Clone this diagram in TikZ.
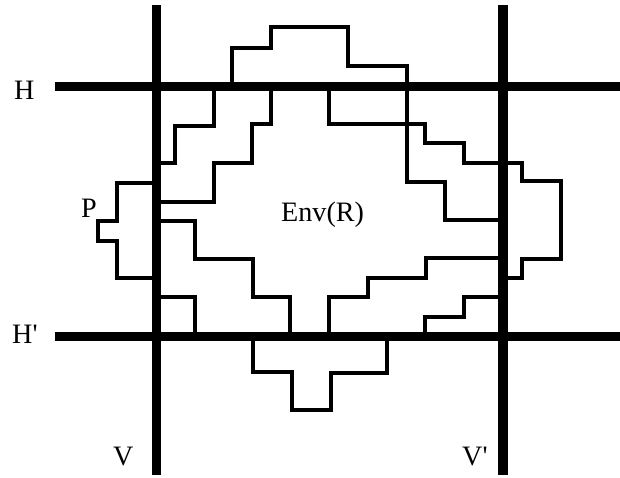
\documentclass[tikz,border=0pt]{standalone}
\usepackage{fontspec}
\setmainfont{Liberation Serif}
\usetikzlibrary{positioning}
\tikzset{
  cutline/.style ={line width=8pt},
  envline/.style ={line width=4.2pt},
  polyline/.style={line width=2.6pt},
  lbl/.style     ={inner sep=0pt,anchor=base west,font=\fontsize{24}{28}\selectfont},
}

\begin{document}
\begin{tikzpicture}[x=0.03cm,y=-0.03cm]
  \useasboundingbox (0,0) rectangle (620,477);

  % the four cut lines
  \draw[cutline] (55,86.5) -- (620,86.5);
  \draw[cutline] (55,336.5) -- (620,336.5);
  \draw[cutline] (156.5,5) -- (156.5,475);
  \draw[cutline] (503,5) -- (503,475);

  % polygon P
  \draw[polyline] (232,86) -- (232,48) -- (271,48) -- (271,27) -- (348,27)
                  -- (348,66) -- (407,66) -- (407,86);
  \draw[polyline] (214,86) -- (214,126) -- (175,126) -- (175,163) -- (156,163);
  \draw[polyline] (407,124) -- (425,124) -- (425,143) -- (464,143) -- (464,163)
                  -- (522,163) -- (522,181) -- (561,181) -- (561,259)
                  -- (522,259) -- (522,278) -- (503,278);
  \draw[polyline] (156,183) -- (117,183) -- (117,221) -- (98,221) -- (98,241)
                  -- (117,241) -- (117,278) -- (156,278);
  \draw[polyline] (156,297) -- (195,297) -- (195,337);
  \draw[polyline] (425,337) -- (425,317) -- (464,317) -- (464,297) -- (503,297);
  \draw[polyline] (253,337) -- (253,372) -- (292,372) -- (292,410) -- (331,410)
                  -- (331,373) -- (387,373) -- (387,337);

  % Env(R)
  \draw[envline] (156,202) -- (214,202) -- (214,163) -- (252,163) -- (252,124)
                 -- (271,124) -- (271,86);
  \draw[envline] (329,86) -- (329,124) -- (407,124);
  \draw[envline] (407,86) -- (407,182) -- (445,182) -- (445,220) -- (503,220);
  \draw[envline] (503,258) -- (426,258) -- (426,278) -- (368,278) -- (368,297)
                 -- (329,297) -- (329,337);
  \draw[envline] (290,337) -- (290,297) -- (253,297) -- (253,259) -- (195,259)
                 -- (195,221) -- (156,221);

  % labels
  \node[lbl] (lH)   at (14,99)   {H};
  \node[lbl] (lHp)  at (12,343)  {H\textquotesingle};
  \node[lbl] (lV)   at (113,465) {V};
  \node[lbl] (lVp)  at (462,465) {V\textquotesingle};
  \node[lbl] (lP)   at (81,217)  {P};
  \node[lbl] (lEnv) at (281,221) {Env(R)};
\end{tikzpicture}
\end{document}
